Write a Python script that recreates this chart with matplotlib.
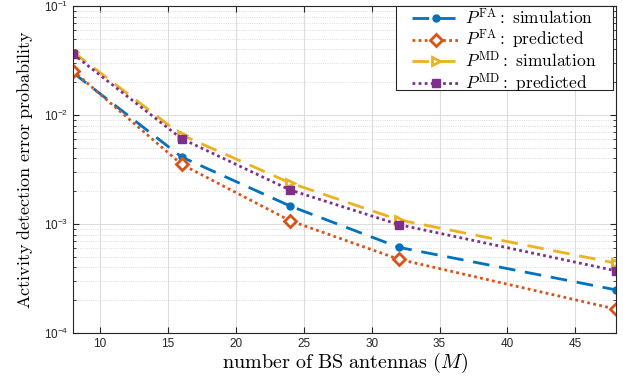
import matplotlib
matplotlib.use('Agg')
import matplotlib.pyplot as plt
from matplotlib.font_manager import FontProperties
from matplotlib.patches import Rectangle
from matplotlib.ticker import LogLocator, NullFormatter, FixedLocator

# data
antennas = [8, 16, 24, 32, 48]
fa_sim = [0.0245, 0.00412, 0.00146, 0.00061, 0.000248]
fa_pred = [0.0255, 0.00353, 0.00107, 0.000474, 0.000165]
md_sim = [0.038, 0.00656, 0.00238, 0.00109, 0.000436]
md_pred = [0.0363, 0.00607, 0.00205, 0.000986, 0.000371]

labels = [r'$P^{\rm FA}\mathrm{:\ simulation}$',
          r'$P^{\rm FA}\mathrm{:\ predicted}$',
          r'$P^{\rm MD}\mathrm{:\ simulation}$',
          r'$P^{\rm MD}\mathrm{:\ predicted}$']

plt.rcParams['font.family'] = ['Liberation Sans', 'DejaVu Sans']

fig = plt.figure(figsize=(6.23, 3.8), dpi=100)
ax = fig.add_axes([0.117, 0.124, 0.872, 0.86])

lw = 2.0
ax.plot(antennas, fa_sim, color='#0072BD', ls=(0, (6, 3.5)), lw=lw, marker='o', ms=5, label=labels[0])
ax.plot(antennas, fa_pred, color='#D95319', ls=(0, (1, 1.2)), lw=lw, marker='D', ms=6,
        mfc='white', mew=2, label=labels[1])
ax.plot(antennas, md_sim, color='#EDB120', ls=(0, (6, 3.5)), lw=lw, marker='>', ms=6,
        mfc='white', mew=2, label=labels[2])
ax.plot(antennas, md_pred, color='#7E2F8E', ls=(0, (1, 1.2)), lw=lw, marker='s', ms=6, label=labels[3])

ax.set_yscale('log')
ax.set_xlim(8, 48)
ax.set_ylim(1e-4, 1e-1)
ax.xaxis.set_major_locator(FixedLocator([10, 15, 20, 25, 30, 35, 40, 45]))
ax.yaxis.set_major_locator(LogLocator(base=10, numticks=10))
ax.yaxis.set_minor_locator(LogLocator(base=10, subs=range(2, 10), numticks=10))
ax.yaxis.set_minor_formatter(NullFormatter())

ax.grid(True, which='major', color='#dcdcdc', lw=0.8)
ax.grid(True, which='minor', axis='y', color='#d0d0d0', ls=':', lw=0.6)
ax.set_axisbelow(True)

ax.tick_params(which='both', direction='in', top=True, right=True, labelsize=8.5, colors='#262626')
ax.tick_params(which='major', length=4)
ax.tick_params(which='minor', length=2)
for s in ax.spines.values():
    s.set_color('#262626')
    s.set_linewidth(0.8)

xlabel_font = FontProperties(family='DejaVu Serif', math_fontfamily='cm', size=14.5)
ylabel_font = FontProperties(family='DejaVu Serif', math_fontfamily='cm', size=13)
ax.set_xlabel(r'$\mathrm{number\ of\ BS\ antennas\ }(M)$', fontproperties=xlabel_font, labelpad=1)
ax.set_ylabel(r'$\mathrm{Activity\ detection\ error\ probability}$', fontproperties=ylabel_font, labelpad=6)

# legend box like MATLAB's (wide side padding, tight rows)
box = Rectangle((0.595, 0.743), 0.399, 0.257, transform=ax.transAxes, facecolor='white',
                edgecolor='#262626', lw=0.8, zorder=4.5, clip_on=False)
ax.add_patch(box)
leg_font = FontProperties(family='DejaVu Serif', math_fontfamily='cm', size=12.5)
leg = ax.legend(loc='center', bbox_to_anchor=(0.794, 0.862), prop=leg_font, frameon=False,
                borderaxespad=0, handlelength=2.7, labelspacing=0.0,
                borderpad=0, handletextpad=0.3)

fig.savefig('out.png', dpi=100)
